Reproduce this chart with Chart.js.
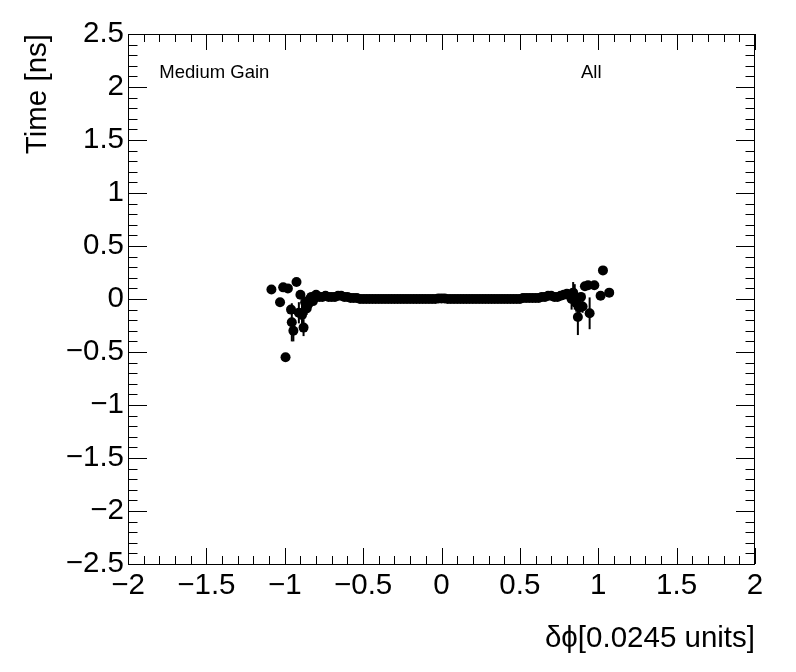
<!DOCTYPE html>
<html>
<head>
<meta charset="utf-8">
<script src="https://cdn.jsdelivr.net/npm/chart.js@4/dist/chart.umd.min.js"></script>
<style>
  body { margin: 0; background: #fff; }
</style>
</head>
<body>
<canvas id="timing_chart" width="796" height="672"></canvas>
<script>
// delta phi bin centres [0.0245 units]
const phi = [
  -1.085, -1.03, -1.01, -0.995, -0.98, -0.96, -0.955, -0.945, -0.925, -0.91,
  -0.90, -0.89, -0.88, -0.87, -0.86, -0.85, -0.84, -0.83, -0.82, -0.81, -0.80,
  -0.78, -0.76, -0.74, -0.72, -0.70, -0.68, -0.66, -0.64, -0.62, -0.60,
  -0.58, -0.56, -0.54, -0.52, -0.50, -0.48, -0.46, -0.44, -0.42, -0.40,
  -0.38, -0.36, -0.34, -0.32, -0.30, -0.28, -0.26, -0.24, -0.22, -0.20,
  -0.18, -0.16, -0.14, -0.12, -0.10, -0.08, -0.06, -0.04, -0.02, 0.00,
  0.02, 0.04, 0.06, 0.08, 0.10, 0.12, 0.14, 0.16, 0.18, 0.20,
  0.22, 0.24, 0.26, 0.28, 0.30, 0.32, 0.34, 0.36, 0.38, 0.40,
  0.42, 0.44, 0.46, 0.48, 0.50, 0.52, 0.54, 0.56, 0.58, 0.60,
  0.62, 0.64, 0.66, 0.68, 0.70, 0.72, 0.74, 0.76,
  0.78, 0.80, 0.82, 0.83, 0.84, 0.85, 0.86, 0.87, 0.88, 0.89, 0.90,
  0.915, 0.935, 0.945, 0.975, 1.015, 1.03, 1.07
];
// mean time [ns]
const time = [
  0.09, -0.03, 0.11, -0.55, 0.10, -0.10, -0.22, -0.30, 0.16, -0.13,
  0.04, -0.15, -0.27, -0.03, -0.09, -0.05, 0.00, 0.02, -0.02, 0.01, 0.04,
  0.02, 0.02, 0.03, 0.02, 0.02, 0.02, 0.03, 0.03, 0.02, 0.02,
  0.01, 0.01, 0.01, 0.00, 0.00, 0.00, 0.00, 0.00, 0.00, 0.00,
  0.00, 0.00, 0.00, 0.00, 0.00, 0.00, 0.00, 0.00, 0.00, 0.00,
  0.00, 0.00, 0.00, 0.00, 0.00, 0.00, 0.00, 0.00, 0.005, 0.005,
  0.005, 0.00, 0.00, 0.00, 0.00, 0.00, 0.00, 0.00, 0.00, 0.00,
  0.00, 0.00, 0.00, 0.00, 0.00, 0.00, 0.00, 0.00, 0.00, 0.00,
  0.00, 0.00, 0.00, 0.00, 0.00, 0.01, 0.01, 0.01, 0.01, 0.01,
  0.01, 0.02, 0.02, 0.03, 0.03, 0.02, 0.02, 0.03,
  0.04, 0.05, 0.03, 0.00, 0.06, 0.02, -0.04, -0.17, -0.08, 0.02, -0.07,
  0.12, 0.13, -0.135, 0.13, 0.03, 0.27, 0.06
];
// error on the mean [ns]
const timeErr = [
  0.01, 0.02, 0.01, 0.01, 0.02, 0.04, 0.18, 0.10, 0.02, 0.10,
  0.03, 0.12, 0.08, 0.05, 0.06, 0.04, 0.03, 0.02, 0.03, 0.02, 0.02,
  0.01, 0.01, 0.01, 0.01, 0.01, 0.01, 0.01, 0.01, 0.01, 0.01,
  0.005, 0.005, 0.005, 0.005, 0.005, 0.005, 0.005, 0.005, 0.005, 0.005,
  0.005, 0.005, 0.005, 0.005, 0.005, 0.005, 0.005, 0.005, 0.005, 0.005,
  0.005, 0.005, 0.005, 0.005, 0.005, 0.005, 0.005, 0.005, 0.005, 0.005,
  0.005, 0.005, 0.005, 0.005, 0.005, 0.005, 0.005, 0.005, 0.005, 0.005,
  0.005, 0.005, 0.005, 0.005, 0.005, 0.005, 0.005, 0.005, 0.005, 0.005,
  0.005, 0.005, 0.005, 0.005, 0.005, 0.005, 0.005, 0.005, 0.005, 0.005,
  0.01, 0.01, 0.01, 0.01, 0.01, 0.01, 0.01, 0.01,
  0.02, 0.03, 0.04, 0.10, 0.10, 0.12, 0.08, 0.17, 0.10, 0.04, 0.06,
  0.02, 0.02, 0.15, 0.02, 0.02, 0.01, 0.01
];
const xTicks = [-2, -1.5, -1, -0.5, 0, 0.5, 1, 1.5, 2];
const yTicks = [-2.5, -2, -1.5, -1, -0.5, 0, 0.5, 1, 1.5, 2, 2.5];

const FONT = "'Liberation Sans', Arial, Helvetica, sans-serif";

function fmt(v) {
  const s = String(Math.round(v * 10) / 10);
  return s.replace('-', '\u2212');
}

// vertical error bars, drawn through the scales
const errorBars = {
  id: 'errorBars',
  beforeDatasetsDraw(chart) {
    const {ctx, scales: {x, y}} = chart;
    ctx.save();
    ctx.strokeStyle = '#000';
    ctx.lineWidth = 2;
    phi.forEach((p, i) => {
      const px = x.getPixelForValue(p);
      ctx.beginPath();
      ctx.moveTo(px, y.getPixelForValue(time[i] - timeErr[i]));
      ctx.lineTo(px, y.getPixelForValue(time[i] + timeErr[i]));
      ctx.stroke();
    });
    ctx.restore();
  }
};

// ROOT style frame with inward ticks on all four sides
const frame = {
  id: 'frame',
  afterDraw(chart) {
    const {ctx, chartArea: a, scales: {x, y}} = chart;
    ctx.save();
    ctx.strokeStyle = '#000';
    ctx.lineWidth = 1;
    ctx.strokeRect(a.left + 0.5, a.top + 0.5, a.right - a.left - 1, a.bottom - a.top);
    ctx.beginPath();
    for (let k = -20; k <= 20; k++) {
      const v = k / 10;
      const px = Math.round(x.getPixelForValue(v)) + 0.5;
      const len = (k % 5 === 0) ? 16 : 8;
      ctx.moveTo(px, a.bottom); ctx.lineTo(px, a.bottom - len);
      ctx.moveTo(px, a.top); ctx.lineTo(px, a.top + len);
    }
    for (let k = -25; k <= 25; k++) {
      const v = k / 10;
      const py = Math.round(y.getPixelForValue(v)) + 0.5;
      const len = (k % 5 === 0) ? 19 : 9.5;
      ctx.moveTo(a.left, py); ctx.lineTo(a.left + len, py);
      ctx.moveTo(a.right, py); ctx.lineTo(a.right - len, py);
    }
    ctx.stroke();

    ctx.fillStyle = '#000';
    ctx.font = '18.5px ' + FONT;
    ctx.textBaseline = 'middle';
    ctx.textAlign = 'left';
    ctx.fillText('Medium Gain', x.getPixelForValue(-1.8), y.getPixelForValue(2.13));
    ctx.fillText('All', x.getPixelForValue(0.89), y.getPixelForValue(2.13));
    ctx.restore();
  }
};

const timing_chart = document.getElementById('timing_chart').getContext('2d');
new Chart(timing_chart, {
  type: 'scatter',
  data: {
    datasets: [{
      label: 'Time',
      data: phi.map((p, i) => ({x: p, y: time[i]})),
      backgroundColor: '#000',
      borderColor: '#000',
      pointRadius: 5,
      pointBorderWidth: 0
    }]
  },
  options: {
    responsive: false,
    animation: false,
    layout: {padding: {top: 34, right: 41, left: 0, bottom: 0}},
    plugins: {legend: {display: false}, tooltip: {enabled: false}},
    scales: {
      x: {
        type: 'linear',
        min: -2, max: 2,
        afterFit(scale) { scale.height = 108; },
        afterBuildTicks(scale) { scale.ticks = xTicks.map(v => ({value: v})); },
        grid: {display: false, drawTicks: false},
        border: {display: false},
        ticks: {
          padding: 4,
          color: '#000',
          font: {family: FONT, size: 29.5},
          maxRotation: 0,
          autoSkip: false,
          callback: fmt
        },
        title: {
          display: true,
          text: '\u03b4\u03d5[0.0245 units]',
          align: 'end',
          color: '#000',
          font: {family: FONT, size: 29.5},
          padding: {top: 0, bottom: 15}
        }
      },
      y: {
        type: 'linear',
        min: -2.5, max: 2.5,
        afterFit(scale) { scale.width = 128; },
        afterBuildTicks(scale) { scale.ticks = yTicks.map(v => ({value: v})); },
        grid: {display: false, drawTicks: false},
        border: {display: false},
        ticks: {
          padding: 4,
          color: '#000',
          font: {family: FONT, size: 29.5},
          autoSkip: false,
          callback: fmt
        },
        title: {
          display: true,
          text: 'Time [ns]',
          align: 'end',
          color: '#000',
          font: {family: FONT, size: 29.5},
          padding: {top: 20, bottom: 0}
        }
      }
    }
  },
  plugins: [errorBars, frame]
});
</script>
</body>
</html>
